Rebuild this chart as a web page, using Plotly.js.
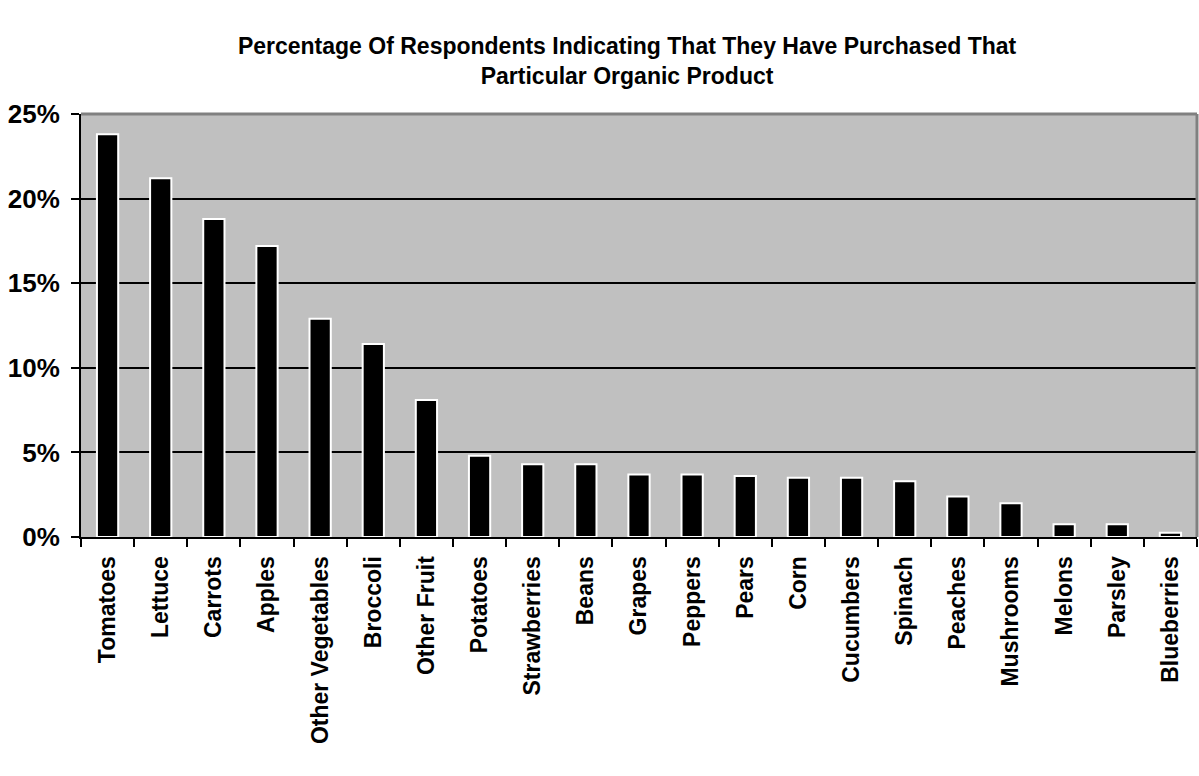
<!DOCTYPE html>
<html>
<head>
<meta charset="utf-8">
<script src="https://cdn.plot.ly/plotly-3.0.1.min.js"></script>
<style>html,body{margin:0;padding:0;background:#fff;}#chart{width:1199px;height:776px;}</style>
</head>
<body>
<div id="chart"></div>
<script>
const categories = ["Tomatoes","Lettuce","Carrots","Apples","Other Vegetables","Broccoli","Other Fruit","Potatoes","Strawberries","Beans","Grapes","Peppers","Pears","Corn","Cucumbers","Spinach","Peaches","Mushrooms","Melons","Parsley","Blueberries"];
const percentages = [23.8,21.2,18.8,17.2,12.9,11.4,8.1,4.8,4.3,4.3,3.7,3.7,3.6,3.5,3.5,3.3,2.4,2.0,0.75,0.75,0.25];
const yTickValues = [0,5,10,15,20,25];
const yTickLabels = ["0%","5%","10%","15%","20%","25%"];
const chartTitle = "Percentage Of Respondents Indicating That They Have Purchased That<br>Particular Organic Product";

const fontFam = "Liberation Sans, Arial, sans-serif";

const trace = {
  type: "bar",
  x: categories,
  y: percentages,
  marker: {color: "#000000", line: {color: "#ffffff", width: 2}},
  hoverinfo: "x+y"
};

const layout = {
  width: 1199,
  height: 776,
  margin: {l: 81, r: 2, t: 114, b: 239},
  paper_bgcolor: "#ffffff",
  plot_bgcolor: "#c0c0c0",
  bargap: 0.6,
  showlegend: false,
  title: {
    text: chartTitle,
    font: {family: fontFam, size: 23, color: "#000", weight: "bold"},
    x: 0.523, xanchor: "center",
    y: 0.93, yanchor: "top"
  },
  xaxis: {
    type: "category",
    tickangle: -90,
    tickfont: {family: fontFam, size: 23, color: "#000", weight: "bold"},
    ticks: "outside",
    tickson: "boundaries",
    ticklen: 8,
    tickwidth: 2,
    tickcolor: "#000",
    ticklabelstandoff: 8,
    showline: true,
    linecolor: "#000",
    linewidth: 2,
    showgrid: false,
    automargin: false
  },
  yaxis: {
    range: [0, 25],
    tickvals: yTickValues,
    ticktext: yTickLabels,
    tickfont: {family: fontFam, size: 26, color: "#000", weight: "bold"},
    ticks: "outside",
    ticklen: 8,
    tickwidth: 2,
    tickcolor: "#000",
    ticklabelstandoff: 6,
    showline: true,
    linecolor: "#000",
    linewidth: 2,
    showgrid: true,
    gridcolor: "#000",
    gridwidth: 2,
    zeroline: false,
    automargin: false
  },
  shapes: [
    {type: "line", xref: "paper", yref: "paper", x0: 0, x1: 1, y0: 1, y1: 1, line: {color: "#808080", width: 3}, layer: "above"},
    {type: "line", xref: "paper", yref: "paper", x0: 1, x1: 1, y0: 0, y1: 1, line: {color: "#808080", width: 3}, layer: "above"}
  ]
};

Plotly.newPlot("chart", [trace], layout, {displayModeBar: false, staticPlot: true});
</script>
</body>
</html>
